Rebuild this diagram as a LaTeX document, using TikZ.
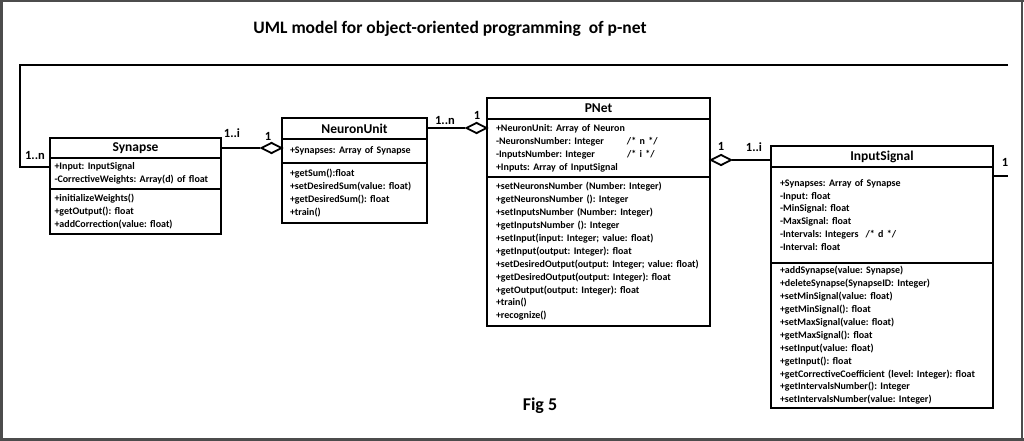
\documentclass[tikz,border=0pt]{standalone}
\usepackage{fontspec}
\setmainfont{Carlito}
\usetikzlibrary{shapes.geometric}
\tikzset{
  clsbox/.style={draw, line width=1.5pt, outer sep=0pt, anchor=north west, inner sep=0pt,
    font=\bfseries\fontsize{13.5}{15}\selectfont},
  bodybox/.style={draw, line width=1.5pt, outer sep=0pt, anchor=north west, align=left,
    inner xsep=5pt, inner ysep=0pt, font=\frenchspacing\bfseries\fontsize{10}{12.9}\selectfont},
  dia/.style={diamond, draw, line width=1.8pt, fill=white, minimum width=21pt, minimum height=11pt, inner sep=0pt},
  conn/.style={line width=1.8pt},
  lbl/.style={inner sep=0pt, font=\bfseries\fontsize{12.5}{13}\selectfont},
  frameline/.style={draw=black!70}
}
\begin{document}
\frenchspacing
\begin{tikzpicture}[x=1pt,y=-1pt]
\useasboundingbox (0,0) rectangle (1024,441);
\fill[white] (0,0) rectangle (1024,441);
% frame
\draw[frameline, line width=3pt] (1.5,0) -- (1.5,441);
\draw[frameline, line width=2pt] (0,1) -- (1024,1);
\draw[frameline, line width=3pt] (0,439.5) -- (1024,439.5);
\draw[frameline, line width=1.2pt] (1022,0) -- (1022,441);

% titles
\node[font=\bfseries\fontsize{17.5}{20}\selectfont] (title) at (450,29) {UML model for object-oriented programming\ \ of p-net};
\node[font=\bfseries\fontsize{18}{20}\selectfont] (fig) at (540,406) {Fig 5};

% Synapse
\node[clsbox, minimum width=171pt, minimum height=20pt] (synT) at (50,138) {Synapse};
\node[bodybox, inner xsep=4.5pt, text width=162pt, minimum height=31pt] (synA) at (synT.south west) {+Input: InputSignal\\-CorrectiveWeights: Array(d) of float};
\node[bodybox, inner xsep=4.5pt, text width=162pt, minimum height=45pt] (synM) at (synA.south west) {+initializeWeights()\\+getOutput(): float\\+addCorrection(value: float)};

% NeuronUnit
\node[clsbox, minimum width=145pt, minimum height=21pt] (nuT) at (282,118) {NeuronUnit};
\node[bodybox, inner xsep=8pt, text width=129pt, minimum height=24pt] (nuA) at (nuT.south west) {+Synapses: Array of Synapse};
\node[bodybox, inner xsep=8pt, text width=129pt, minimum height=60pt] (nuM) at (nuA.south west) {+getSum():float\\+setDesiredSum(value: float)\\+getDesiredSum(): float\\+train()};

% PNet
\node[clsbox, minimum width=223pt, minimum height=21pt] (pnT) at (487,98) {PNet};
\node[bodybox, inner xsep=9pt, text width=205pt, minimum height=58pt] (pnA) at (pnT.south west) {+NeuronUnit: Array of Neuron\\\makebox[131pt][l]{-NeuronsNumber: Integer}/* n */\\\makebox[131pt][l]{-InputsNumber: Integer}/* i */\\+Inputs: Array of InputSignal};
\node[bodybox, inner xsep=9pt, text width=205pt, minimum height=149pt] (pnM) at (pnA.south west) {+setNeuronsNumber (Number: Integer)\\+getNeuronsNumber (): Integer\\+setInputsNumber (Number: Integer)\\+getInputsNumber (): Integer\\+setInput(input: Integer; value: float)\\+getInput(output: Integer): float\\+setDesiredOutput(output: Integer; value: float)\\+getDesiredOutput(output: Integer): float\\+getOutput(output: Integer): float\\+train()\\+recognize()};

% InputSignal
\node[clsbox, minimum width=222pt, minimum height=21pt] (isT) at (771,146) {InputSignal};
\node[bodybox, inner xsep=9pt, text width=204pt, minimum height=96pt] (isA) at (isT.south west) {+Synapses: Array of Synapse\\-Input: float\\-MinSignal: float\\-MaxSignal: float\\-Intervals: Integers\hspace{7pt}/* d */\\-Interval: float};
\node[bodybox, inner xsep=9pt, text width=204pt, minimum height=145pt] (isM) at (isA.south west) {+addSynapse(value: Synapse)\\+deleteSynapse(SynapseID: Integer)\\+setMinSignal(value: float)\\+getMinSignal(): float\\+setMaxSignal(value: float)\\+getMaxSignal(): float\\+setInput(value: float)\\+getInput(): float\\+getCorrectiveCoefficient (level: Integer): float\\+getIntervalsNumber(): Integer\\+setIntervalsNumber(value: Integer)};

% diamonds
\node[dia] (d1) at (271.5,148) {};
\node[dia] (d2) at (476.5,128) {};
\node[dia] (d3) at (721,160) {};

% connectors
\draw[conn] (synT.east) -- (d1.west);
\draw[conn] (nuT.east |- d2.west) -- (d2.west);
\draw[conn] (d3.east) -- (d3.east -| isT.west);
\coordinate (rEnd) at (1008,176);
\coordinate (tEnd) at (1008,65);
\coordinate (tCorner) at (20,65);
\coordinate (bCorner) at (20,167);
\draw[conn] (isA.east |- rEnd) -- (rEnd);
\draw[conn] (tEnd) -- (tCorner) -- (bCorner) -- (bCorner -| synA.west);

% multiplicity labels
\node[lbl] (m1) at (35,155) {1..n};
\node[lbl] (m2) at (232,133) {1..i};
\node[lbl] (m3) at (268,136) {1};
\node[lbl] (m4) at (445,120) {1..n};
\node[lbl] (m5) at (477,115) {1};
\node[lbl] (m6) at (721,146) {1};
\node[lbl] (m7) at (754,147) {1..i};
\node[lbl] (m8) at (1005,162) {1};
\end{tikzpicture}
\end{document}
